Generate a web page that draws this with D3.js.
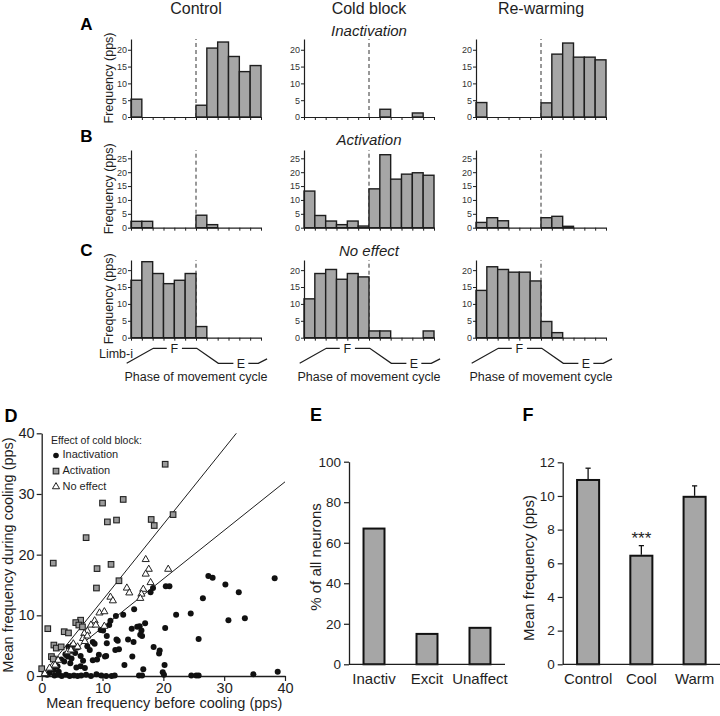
<!DOCTYPE html>
<html>
<head>
<meta charset="utf-8">
<script src="https://cdn.jsdelivr.net/npm/d3@7"></script>
<style>
  body { margin: 0; background: #fff; }
  svg { display: block; font-family: "Liberation Sans", Arial, sans-serif; }
</style>
</head>
<body>
<div id="fig"></div>
<script>
// #############################################################################
// data
var columnTitles = ["Control", "Cold block", "Re-warming"];
var rowLetters = ["A", "B", "C"];
var rowTitles = ["Inactivation", "Activation", "No effect"];
var nBins = 12;
var flexBoundary = 6;

// firing frequency (pps) per phase bin
var inactControl = [5.3, 0, 0, 0, 0, 0, 3.5, 20.5, 22.3, 18, 13.5, 15.3];
var inactCold    = [0, 0, 0, 0, 0, 0, 0, 2.3, 0, 0, 1.2, 0];
var inactWarm    = [4.3, 0, 0, 0, 0, 0, 4.2, 18.7, 22, 17.8, 17.8, 17];
var actControl   = [2.3, 2.3, 0, 0, 0, 0, 4.5, 1.1, 0, 0, 0, 0];
var actCold      = [13.2, 4.4, 2.4, 1.1, 2.4, 0.6, 14, 26.3, 17.5, 19.3, 19.8, 18.9];
var actWarm      = [1.9, 3.6, 2.5, 0, 0, 0, 3.6, 4.1, 0.5, 0, 0, 0];
var noneControl  = [17, 22.5, 19, 16, 17, 19, 3.3, 0, 0, 0, 0, 0];
var noneCold     = [11.5, 19, 20.2, 17.3, 19, 18, 2, 2, 0, 0, 0, 2];
var noneWarm     = [14, 21, 20.2, 19.4, 19.4, 16.8, 4.8, 1.5, 0, 0, 0, 0];

var histTicksA = [0, 5, 10, 15, 20];
var histTicksB = [0, 5, 10, 15, 20, 25];
var histTicksC = [0, 5, 10, 15, 20];
var histMax = [23.2, 28, 23];

// limb trajectory (phase in bins, 0 = extended, 1 = flexed), split round F / E
var limbSeg1 = [[-0.4, 0], [2.06, 1], [3.3, 1]];
var limbSeg2 = [[4.7, 1], [6.07, 1], [8.06, 0], [9.45, 0]];
var limbSeg3 = [[10.83, 0], [11.75, 0], [12.56, 0.3]];
var limbLabels = [["F", 3.99, 1], ["E", 10.14, 0]];

// D: mean frequency before vs during cooling
var inactivationPts = [
  [38.3, 16.1], [27.4, 16.5], [28.1, 16.2], [30.2, 15.1], [32.4, 13.8], [26.5, 12.8],
  [22.1, 10.1], [24.5, 10.3], [30.7, 9.2], [33.4, 9.5], [25.8, 6.1], [20.4, 14.8],
  [21.0, 14.8], [18.3, 14.5], [17.9, 13.8], [20.3, 7.9], [13.4, 10.1], [12.2, 9.9],
  [15.2, 11.0], [17.0, 8.7], [16.1, 8.2], [15.7, 8.1], [16.4, 7.5], [14.8, 7.8],
  [16.2, 6.8], [16.5, 6.6], [14.2, 6.0], [15.1, 5.6], [18.4, 4.8], [19.4, 4.2],
  [19.3, 3.7], [14.9, 3.2], [13.6, 1.8], [16.7, 1.1], [20.2, 1.8], [19.9, 0.6],
  [20.1, 0.2], [16.0, 0.1], [16.5, 0.1], [24.6, 0.1], [25.4, 0.1], [25.8, 0.1],
  [34.8, 0.3], [38.8, 0.7], [12.7, 4.4], [11.3, 9.1], [11.1, 8.4], [10.1, 7.5],
  [9.7, 7.6], [10.7, 6.6], [12.3, 6.0], [12.5, 5.8], [10.7, 5.4], [12.1, 4.3],
  [8.4, 5.6], [8.7, 5.3], [7.5, 4.9], [7.9, 4.3], [9.4, 3.5], [10.4, 3.2],
  [10.6, 3.3], [9.1, 2.7], [8.4, 2.6], [6.4, 3.3], [6.8, 2.5], [6.4, 1.6],
  [5.7, 1.4], [7.1, 1.3], [4.7, 2.1], [4.9, 2.9], [4.9, 4.2], [5.5, 3.8],
  [5.9, 4.7], [5.1, 5.1], [4.4, 4.8], [3.9, 3.6], [4.3, 3.2], [3.2, 2.7],
  [3.7, 2.4], [2.6, 1.6], [2.0, 1.0], [2.8, 0.7], [1.3, 0.5], [0.9, 0.2],
  [2.1, 0.1], [2.7, 0.2], [3.3, 0], [4.0, 0.2], [4.6, 0], [5.3, 0.1],
  [5.9, 0], [6.5, 0.1], [7.3, 0.2], [8.1, 0], [9.0, 0.3], [9.8, 0.1],
  [10.6, 0], [11.5, 0], [12.0, 0.1]
];
var activationPts = [
  [20.3, 34.9], [13.4, 29.1], [10.0, 28.5], [10.8, 25.4], [12.3, 25.7], [18.0, 25.8],
  [18.5, 24.8], [21.6, 26.6], [7.3, 22.8], [1.9, 18.6], [9.1, 17.7], [11.4, 18.4],
  [12.7, 15.7], [9.0, 14.5], [6.4, 9.2], [5.6, 8.8], [6.1, 8.4], [6.7, 8.1],
  [3.7, 7.3], [4.4, 7.1], [1.0, 7.8], [2.0, 5.1], [2.4, 4.6], [3.2, 4.8],
  [1.6, 3.2], [1.9, 2.8], [0, 1.2]
];
var noEffectPts = [
  [17.1, 19.2], [17.6, 17.6], [17.1, 16.8], [20.8, 17.6], [17.9, 15.4], [14.0, 14.5],
  [14.4, 13.7], [16.7, 14.3], [16.4, 13.5], [16.2, 12.8], [11.3, 13.0], [11.7, 12.4],
  [9.5, 10.4], [10.3, 10.6], [10.3, 8.2], [8.7, 9.1], [8.1, 8.4], [8.9, 8.4],
  [7.5, 7.4], [7.0, 7.0], [6.8, 6.2], [7.5, 6.6], [7.1, 5.7], [5.2, 5.3],
  [5.9, 4.8], [4.3, 4.0], [4.8, 4.3], [2.7, 2.6], [2.2, 1.8], [1.3, 1.3], [0.5, 0.4]
];
var refSlopes = [1.25, 0.8];
var scatterTicks = [0, 10, 20, 30, 40];
var legendLabels = ["Inactivation", "Activation", "No effect"];

// E: share of neurons
var effectCats = ["Inactiv", "Excit", "Unaffect"];
var effectPct = [67, 15, 18];
var pctTicks = [0, 20, 40, 60, 80, 100];

// F: mean frequency with SEM
var condCats = ["Control", "Cool", "Warm"];
var condMean = [10.95, 6.45, 9.95];
var condErr = [0.7, 0.6, 0.65];
var condStars = ["", "***", ""];
var freqTicks = [0, 2, 4, 6, 8, 10, 12];

// #############################################################################
var W = 720, H = 716;
var barFill = "#a6a6a6";
var ink = "#1e1e1e";

var svg = d3.select("#fig").append("svg")
            .attr("width", W)
            .attr("height", H)
            .attr("viewBox", "0 0 " + W + " " + H);

// #############################################################################
// A-C: phase histograms
var colLeft = [131, 304, 476];
var histW = 130;
var rowBase = [117, 227.7, 337.7];
var rowTop = [39, 150, 260];
var histRows = [
  { series: [inactControl, inactCold, inactWarm], ticks: histTicksA },
  { series: [actControl, actCold, actWarm], ticks: histTicksB },
  { series: [noneControl, noneCold, noneWarm], ticks: histTicksC }
];

columnTitles.forEach(function(t, c) {
    svg.append("text")
       .attr("x", colLeft[c] + histW / 2)
       .attr("y", 14)
       .attr("text-anchor", "middle")
       .attr("font-size", 16)
       .attr("fill", ink)
       .text(t);
});

var rowTitleY = [36, 145, 256];
var rowLetterY = [29.5, 142, 255.5];

histRows.forEach(function(row, r) {
    svg.append("text")
       .attr("x", 86.5)
       .attr("y", rowLetterY[r])
       .attr("text-anchor", "middle")
       .attr("font-size", 17)
       .attr("font-weight", "bold")
       .attr("fill", "#000")
       .text(rowLetters[r]);

    svg.append("text")
       .attr("x", colLeft[1] + histW / 2)
       .attr("y", rowTitleY[r])
       .attr("text-anchor", "middle")
       .attr("font-size", 15)
       .attr("font-style", "italic")
       .attr("fill", ink)
       .text(rowTitles[r]);

    svg.append("text")
       .attr("transform", "translate(113," + ((rowBase[r] + rowTop[r]) / 2) + ") rotate(-90)")
       .attr("text-anchor", "middle")
       .attr("font-size", 12.5)
       .attr("fill", ink)
       .text("Frequency (pps)");

    row.series.forEach(function(vals, c) {
        var x = d3.scaleLinear().domain([0, nBins]).range([colLeft[c], colLeft[c] + histW]);
        var y = d3.scaleLinear().domain([0, histMax[r]]).range([rowBase[r], rowTop[r]]);
        var g = svg.append("g");

        // flexion / extension boundary
        g.append("line")
         .attr("x1", x(flexBoundary)).attr("x2", x(flexBoundary))
         .attr("y1", y(0)).attr("y2", y(histMax[r]))
         .attr("stroke", "#333")
         .attr("stroke-width", 1)
         .attr("stroke-dasharray", "4,3");

        var bins = vals.map(function(v, i) { return { bin: i, v: v }; })
                       .filter(function(d) { return d.v > 0; });

        g.selectAll("rect")
         .data(bins)
         .enter().append("rect")
         .attr("x", function(d) { return x(d.bin); })
         .attr("y", function(d) { return y(d.v); })
         .attr("width", x(1) - x(0))
         .attr("height", function(d) { return y(0) - y(d.v); })
         .attr("fill", barFill)
         .attr("stroke", ink)
         .attr("stroke-width", 1.4);

        var yAxis = d3.axisLeft(y).tickValues(row.ticks).tickSize(3).tickSizeOuter(0).tickPadding(1);
        var xAxis = d3.axisBottom(x).tickValues(d3.range(nBins + 1)).tickSize(3).tickSizeOuter(0).tickFormat("");

        var ga = g.append("g").attr("transform", "translate(" + x(0) + ",0)").call(yAxis);
        var gb = g.append("g").attr("transform", "translate(0," + y(0) + ")").call(xAxis);
        [ga, gb].forEach(function(a) {
            a.select(".domain").attr("stroke", ink).attr("stroke-width", 1.2);
            a.selectAll(".tick line").attr("stroke", ink);
        });
        ga.selectAll("text").attr("font-size", 9).attr("fill", "#333")
          .attr("font-family", "\"Liberation Sans Narrow\", \"Liberation Sans\", Arial, sans-serif");

        // limb trace under the last row
        if (r === 2) {
            var yl = d3.scaleLinear().domain([0, 1]).range([rowBase[r] + 25.6, rowBase[r] + 10.6]);
            var line = d3.line().x(function(d) { return x(d[0]); }).y(function(d) { return yl(d[1]); });
            [limbSeg1, limbSeg2, limbSeg3].forEach(function(seg) {
                g.append("path").attr("d", line(seg))
                 .attr("fill", "none").attr("stroke", ink).attr("stroke-width", 1.3);
            });
            limbLabels.forEach(function(l) {
                g.append("text")
                 .attr("x", x(l[1]))
                 .attr("y", yl(l[2]) + 1)
                 .attr("text-anchor", "middle")
                 .attr("dominant-baseline", "middle")
                 .attr("font-size", 12.5)
                 .attr("fill", ink)
                 .text(l[0]);
            });
            g.append("text")
             .attr("x", x(nBins / 2))
             .attr("y", 381)
             .attr("text-anchor", "middle")
             .attr("font-size", 12.5)
             .attr("fill", ink)
             .text("Phase of movement cycle");
            if (c === 0) {
                g.append("text")
                 .attr("x", 133)
                 .attr("y", 355)
                 .attr("text-anchor", "end")
                 .attr("dominant-baseline", "middle")
                 .attr("font-size", 12.5)
                 .attr("fill", ink)
                 .text("Limb-i");
            }
        }
    });
});

// #############################################################################
// D: scatter
var xD = d3.scaleLinear().domain([0, 40]).range([41.7, 285]);
var yD = d3.scaleLinear().domain([0, 40]).range([676, 433.3]);

svg.append("text").attr("x", 11).attr("y", 421.5)
   .attr("text-anchor", "middle").attr("font-size", 18).attr("font-weight", "bold")
   .text("D");

var gD = svg.append("g");
gD.selectAll("line.ref")
  .data(refSlopes)
  .enter().append("line")
  .attr("class", "ref")
  .attr("x1", xD(0)).attr("y1", yD(0))
  .attr("x2", function(s) { return xD(Math.min(40, 40 / s)); })
  .attr("y2", function(s) { return yD(Math.min(40, 40 / s) * s); })
  .attr("stroke", ink).attr("stroke-width", 1);

var axD1 = gD.append("g").attr("transform", "translate(0," + yD(0) + ")")
             .call(d3.axisBottom(xD).tickValues(scatterTicks).tickSize(5).tickSizeOuter(0).tickPadding(2));
var axD2 = gD.append("g").attr("transform", "translate(" + xD(0) + ",0)")
             .call(d3.axisLeft(yD).tickValues(scatterTicks).tickSize(5).tickSizeOuter(0).tickPadding(2));
[axD1, axD2].forEach(function(a) {
    a.select(".domain").attr("stroke", ink).attr("stroke-width", 1.3);
    a.selectAll(".tick line").attr("stroke", ink).attr("stroke-width", 1.2);
    a.selectAll("text").attr("font-size", 14.5).attr("fill", ink)
     .attr("font-family", "\"Liberation Sans\", Arial, sans-serif");
});

gD.selectAll("circle.inact")
  .data(inactivationPts)
  .enter().append("circle")
  .attr("class", "inact")
  .attr("cx", function(d) { return xD(d[0]); })
  .attr("cy", function(d) { return yD(d[1]); })
  .attr("r", 3)
  .attr("fill", "#111");

gD.selectAll("rect.act")
  .data(activationPts)
  .enter().append("rect")
  .attr("class", "act")
  .attr("x", function(d) { return xD(d[0]) - 2.8; })
  .attr("y", function(d) { return yD(d[1]) - 2.8; })
  .attr("width", 5.6).attr("height", 5.6)
  .attr("fill", "#9a9a9a").attr("stroke", "#222").attr("stroke-width", 1.1);

var tri = d3.symbol().type(d3.symbolTriangle).size(22);
gD.selectAll("path.none")
  .data(noEffectPts)
  .enter().append("path")
  .attr("class", "none")
  .attr("d", tri)
  .attr("transform", function(d) { return "translate(" + xD(d[0]) + "," + yD(d[1]) + ")"; })
  .attr("fill", "#fff").attr("stroke", "#222").attr("stroke-width", 1);

// legend
gD.append("text").attr("x", 51).attr("y", 443.5)
  .attr("font-size", 10.5).attr("fill", ink).text("Effect of cold block:");
legendLabels.forEach(function(l, i) {
    var ly = 455.5 + i * 15.6;
    if (i === 0) {
        gD.append("circle").attr("cx", 56).attr("cy", ly).attr("r", 2.8).attr("fill", "#111");
    } else if (i === 1) {
        gD.append("rect").attr("x", 53.2).attr("y", ly - 2.8).attr("width", 5.6).attr("height", 5.6)
          .attr("fill", "#9a9a9a").attr("stroke", "#222").attr("stroke-width", 1.1);
    } else {
        gD.append("path").attr("d", tri).attr("transform", "translate(56," + ly + ")")
          .attr("fill", "#fff").attr("stroke", "#222").attr("stroke-width", 1);
    }
    gD.append("text").attr("x", 62.5).attr("y", ly)
      .attr("dominant-baseline", "middle")
      .attr("font-size", 11).attr("fill", ink).text(l);
});

gD.append("text").attr("x", (xD(0) + xD(40)) / 2 + 1).attr("y", 708)
  .attr("text-anchor", "middle").attr("font-size", 14.5).attr("fill", ink)
  .text("Mean frequency before cooling (pps)");
gD.append("text").attr("transform", "translate(12.5,555) rotate(-90)")
  .attr("text-anchor", "middle").attr("font-size", 14.5).attr("fill", ink)
  .text("Mean frequency during cooling (pps)");

// #############################################################################
// E and F: bar charts sharing the same look
function barPanel(opts) {
    var g = svg.append("g");
    var x = d3.scaleBand().domain(opts.cats).range(opts.xr).paddingInner(opts.pi).paddingOuter(opts.po);
    var y = d3.scaleLinear().domain(opts.dom).range([664.3, opts.top]);

    g.selectAll("rect")
     .data(opts.values)
     .enter().append("rect")
     .attr("x", function(d, i) { return x(opts.cats[i]); })
     .attr("y", function(d) { return y(d); })
     .attr("width", x.bandwidth())
     .attr("height", function(d) { return y(0) - y(d); })
     .attr("fill", barFill).attr("stroke", "#111").attr("stroke-width", 2);

    if (opts.err) {
        opts.values.forEach(function(v, i) {
            var cx = x(opts.cats[i]) + x.bandwidth() / 2;
            g.append("line").attr("x1", cx).attr("x2", cx)
             .attr("y1", y(v) - 1).attr("y2", y(v + opts.err[i]))
             .attr("stroke", "#111").attr("stroke-width", 1.3);
            g.append("line").attr("x1", cx - 2.6).attr("x2", cx + 2.6)
             .attr("y1", y(v + opts.err[i])).attr("y2", y(v + opts.err[i]))
             .attr("stroke", "#111").attr("stroke-width", 1.3);
            if (opts.stars[i]) {
                g.append("text").attr("x", cx).attr("y", y(v + opts.err[i]) - 2)
                 .attr("text-anchor", "middle").attr("font-size", 17).attr("fill", ink)
                 .text(opts.stars[i]);
            }
        });
    }

    var ay = g.append("g").attr("transform", "translate(" + opts.xr[0] + ",0)")
              .call(d3.axisLeft(y).tickValues(opts.ticks).tickSize(5).tickSizeOuter(0).tickPadding(3));
    ay.select(".domain").attr("stroke", ink).attr("stroke-width", 1.3);
    ay.selectAll(".tick line").attr("stroke", ink).attr("stroke-width", 1.2);
    ay.selectAll("text").attr("font-size", 13.5).attr("fill", ink)
      .attr("font-family", "\"Liberation Sans\", Arial, sans-serif");

    g.append("line").attr("x1", opts.xr[0]).attr("x2", opts.xr[1])
     .attr("y1", y(0)).attr("y2", y(0))
     .attr("stroke", ink).attr("stroke-width", 1.3);

    opts.cats.forEach(function(c) {
        g.append("text").attr("x", x(c) + x.bandwidth() / 2).attr("y", 684)
         .attr("text-anchor", "middle").attr("font-size", 15).attr("fill", ink).text(c);
    });

    g.append("text").attr("transform", "translate(" + opts.labelX + "," + opts.labelY + ") rotate(-90)")
     .attr("text-anchor", "middle").attr("font-size", 15).attr("fill", ink).text(opts.label);

    svg.append("text").attr("x", opts.letterX).attr("y", 421)
       .attr("text-anchor", "middle").attr("font-size", 18).attr("font-weight", "bold")
       .text(opts.letter);
}

barPanel({ letter: "E", letterX: 316, cats: effectCats, values: effectPct, dom: [0, 100], ticks: pctTicks,
           xr: [349, 505], pi: 0.604, po: 0.274, top: 461.7,
           label: "% of all neurons", labelX: 321, labelY: 557 });
barPanel({ letter: "F", letterX: 528, cats: condCats, values: condMean, err: condErr, stars: condStars,
           dom: [0, 12], ticks: freqTicks, xr: [562.7, 720], pi: 0.586, po: 0.27, top: 462.3,
           label: "Mean frequency (pps)", labelX: 534, labelY: 568 });
</script>
</body>
</html>
